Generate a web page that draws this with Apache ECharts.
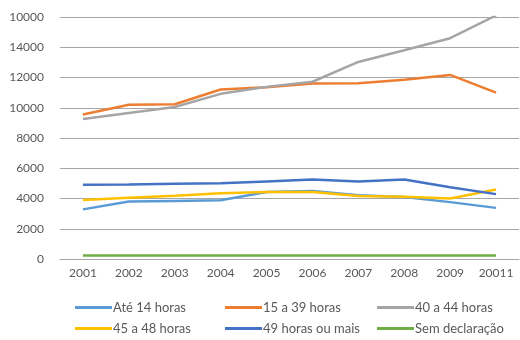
<!DOCTYPE html>
<html>
<head>
<meta charset="utf-8">
<script src="https://cdn.jsdelivr.net/npm/echarts@6/dist/echarts.min.js"></script>
<style>
  html, body { margin: 0; padding: 0; background: #fff; }
  #chart { width: 520px; height: 340px; }
</style>
</head>
<body>
<div id="chart"></div>
<script>
// Categories (years) and y tick labels as printed on the chart
const years = ['2001', '2002', '2003', '2004', '2005', '2006', '2007', '2008', '2009', '20011'];
const yTickLabels = ['0', '2000', '4000', '6000', '8000', '10000', '12000', '14000', '10000'];

// Workers by weekly hours worked
const ate14 = [3280, 3800, 3840, 3880, 4430, 4500, 4210, 4100, 3760, 3380];
const de15a39 = [9550, 10200, 10230, 11210, 11350, 11600, 11620, 11850, 12170, 11000];
const de40a44 = [9250, 9650, 10050, 10920, 11380, 11720, 13030, 13800, 14600, 16100];
const de45a48 = [3900, 4050, 4180, 4340, 4430, 4430, 4160, 4120, 4000, 4590];
const mais49 = [4910, 4930, 4970, 5010, 5130, 5250, 5120, 5250, 4750, 4290];
const semDecl = [230, 230, 230, 230, 230, 230, 230, 230, 230, 230];

const seriesNames = ['Até 14 horas', '15 a 39 horas', '40 a 44 horas', '45 a 48 horas', '49 horas ou mais', 'Sem declaração'];
const seriesData = [ate14, de15a39, de40a44, de45a48, mais49, semDecl];
const colors = ['#5B9BD5', '#ED7D31', '#A5A5A5', '#FFC000', '#4472C4', '#70AD47'];

const font = 'Lato, "Open Sans", sans-serif';
const textColor = '#595959';

// One legend column per pair of series, stacked top-to-bottom
function legendColumn(names, left) {
  return {
    orient: 'vertical',
    left: left,
    top: 301,
    height: 39,
    padding: 0,
    itemGap: 8,
    itemWidth: 37,
    itemHeight: 3,
    icon: 'rect',
    data: names,
    textStyle: { color: textColor, fontSize: 13, fontFamily: font, padding: [0, 0, 0, -4] }
  };
}

const chart = echarts.init(document.getElementById('chart'), null, { renderer: 'canvas' });
chart.setOption({
  animation: false,
  color: colors,
  grid: { left: 60, right: 1, top: 17, bottom: 81, containLabel: false },
  legend: [
    legendColumn([seriesNames[0], seriesNames[3]], 75),
    legendColumn([seriesNames[1], seriesNames[4]], 225),
    legendColumn([seriesNames[2], seriesNames[5]], 377)
  ],
  xAxis: {
    type: 'category',
    data: years,
    boundaryGap: true,
    axisLine: { show: true, lineStyle: { color: '#a6a6a6', width: 1 } },
    axisTick: { show: false },
    axisLabel: { color: textColor, fontSize: 12, fontFamily: font, margin: 8 }
  },
  yAxis: {
    type: 'value',
    min: 0,
    max: 16000,
    interval: 2000,
    axisLine: { show: false },
    axisTick: { show: false },
    splitLine: { lineStyle: { color: '#a6a6a6', width: 1 } },
    axisLabel: {
      color: textColor, fontSize: 12, fontFamily: font, margin: 16,
      formatter: function (v) { return yTickLabels[Math.round(v / 2000)]; }
    }
  },
  series: seriesNames.map(function (name, i) {
    return {
      name: name,
      type: 'line',
      data: seriesData[i],
      symbol: 'none',
      smooth: false,
      lineStyle: { width: 2.5, color: colors[i] },
      itemStyle: { color: colors[i] }
    };
  })
});
</script>
</body>
</html>
